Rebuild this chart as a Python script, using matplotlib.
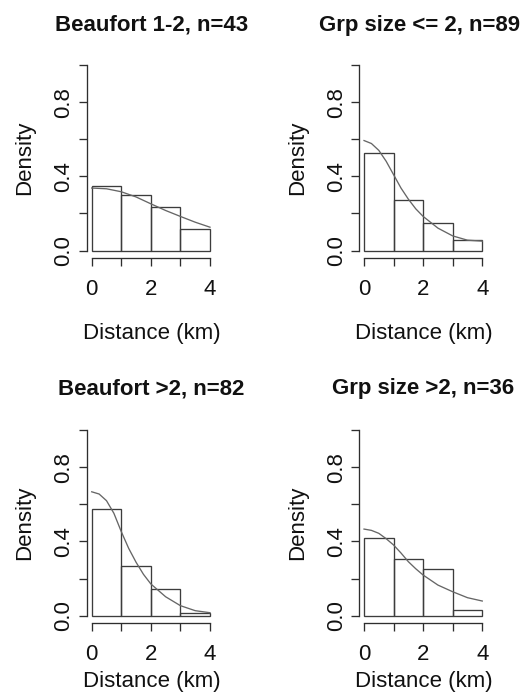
import matplotlib
matplotlib.use('Agg')
import matplotlib.pyplot as plt

plt.rcParams['font.family'] = ['Liberation Sans', 'DejaVu Sans']

# ---------------- data ----------------
titles = ["Beaufort 1-2, n=43", "Grp size <= 2, n=89",
          "Beaufort >2, n=82", "Grp size >2, n=36"]
breaks = [0, 1, 2, 3, 4]

dens_beaufort_12 = [0.349, 0.302, 0.233, 0.116]
dens_grp_le2 = [0.528, 0.270, 0.146, 0.056]
dens_beaufort_gt2 = [0.573, 0.268, 0.146, 0.012]
dens_grp_gt2 = [0.417, 0.306, 0.250, 0.028]

curve_x_beaufort_12 = [0, 0.5, 1, 1.5, 2, 2.5, 3, 3.5, 4]
curve_y_beaufort_12 = [0.337, 0.333, 0.317, 0.289, 0.252, 0.216, 0.184, 0.153, 0.126]

curve_x_grp_le2 = [0, 0.25, 0.5, 0.75, 1, 1.25, 1.5, 1.75, 2, 2.5, 3, 3.5, 4]
curve_y_grp_le2 = [0.593, 0.577, 0.540, 0.481, 0.409, 0.337, 0.277, 0.225, 0.184,
                   0.121, 0.079, 0.056, 0.051]

curve_x_beaufort_gt2 = [0, 0.25, 0.5, 0.75, 1, 1.25, 1.5, 1.75, 2, 2.5, 3, 3.5, 4]
curve_y_beaufort_gt2 = [0.668, 0.656, 0.620, 0.552, 0.453, 0.363, 0.288, 0.223, 0.171,
                        0.102, 0.054, 0.027, 0.016]

curve_x_grp_gt2 = [0, 0.25, 0.5, 0.75, 1, 1.25, 1.5, 1.75, 2, 2.5, 3, 3.5, 4]
curve_y_grp_gt2 = [0.467, 0.460, 0.444, 0.415, 0.381, 0.338, 0.291, 0.253, 0.219,
                   0.165, 0.129, 0.097, 0.079]

y_ticks = [0, 0.2, 0.4, 0.6, 0.8, 1.0]
y_ticklabels = ["0.0", "", "0.4", "", "0.8", ""]
x_ticks = [0, 1, 2, 3, 4]
x_ticklabels = ["0", "", "2", "", "4"]

panels = [
    (titles[0], dens_beaufort_12, curve_x_beaufort_12, curve_y_beaufort_12),
    (titles[1], dens_grp_le2, curve_x_grp_le2, curve_y_grp_le2),
    (titles[2], dens_beaufort_gt2, curve_x_beaufort_gt2, curve_y_beaufort_gt2),
    (titles[3], dens_grp_gt2, curve_x_grp_gt2, curve_y_grp_gt2),
]

# ---------------- layout (pixels) ----------------
W, H = 528, 698
DPI = 100
fig = plt.figure(figsize=(W / DPI, H / DPI), dpi=DPI)
fig.patch.set_facecolor('white')

# (left, top, right, bottom) of plot regions in pixels
boxes = [
    (87.0, 57.6, 214.7, 258.0),
    (359.3, 57.6, 487.0, 258.0),
    (87.0, 422.8, 214.7, 623.1),
    (359.3, 422.8, 487.0, 623.1),
]
title_baseline = [31.0, 31.0, 394.0, 394.0]
title_dx = [0.5, -4.0, 0.5, 0.0]
xlabel_center = [333.0, 333.0, 682.0, 682.0]

axis_col = '#2e2e2e'
bar_col = '#3c3c3c'
curve_col = '#666666'
FS = 16


def fx(px):
    return px / W


def fy(py):
    return 1 - py / H


for (title, dens, cx, cy), (l, t, r, b), tb, tdx, xc in zip(panels, boxes, title_baseline,
                                                          title_dx, xlabel_center):
    ax = fig.add_axes([fx(l), fy(b), (r - l) / W, (b - t) / H])
    ax.set_xlim(-0.16, 4.16)
    ax.set_ylim(-0.04, 1.04)
    ax.bar(breaks[:-1], dens, width=[breaks[i + 1] - breaks[i] for i in range(len(dens))],
           align='edge', fill=False, edgecolor=bar_col, linewidth=0.95)
    ax.plot(cx, cy, color=curve_col, linewidth=0.95)

    for s in ['top', 'right']:
        ax.spines[s].set_visible(False)
    ax.spines['left'].set_bounds(0, 1)
    ax.spines['bottom'].set_bounds(0, 4)
    for s in ['left', 'bottom']:
        ax.spines[s].set_color(axis_col)
        ax.spines[s].set_linewidth(0.95)

    ax.set_yticks(y_ticks)
    ax.set_yticklabels(y_ticklabels)
    ax.set_xticks(x_ticks)
    ax.set_xticklabels(x_ticklabels)
    ax.tick_params(axis='both', direction='out', length=5.8, width=0.95,
                   color=axis_col, labelsize=FS, labelcolor='#111111')
    ax.tick_params(axis='y', pad=3.2)
    ax.tick_params(axis='x', pad=9.5)
    for lab in ax.get_yticklabels():
        lab.set_rotation(90)
        lab.set_va('center')

    cxp = (l + r) / 2
    fig.text(fx(cxp + tdx), fy(tb), title, ha='center', va='baseline',
             fontsize=FS, fontweight='bold', color='#111111')
    fig.text(fx(cxp + 0.5), fy(xc), "Distance (km)", ha='center', va='center',
             fontsize=FS, color='#111111')
    fig.text(fx(l - 62), fy((t + b) / 2), "Density", ha='center', va='center',
             rotation=90, fontsize=FS, color='#111111')

fig.savefig('out.png', dpi=DPI, facecolor='white')
